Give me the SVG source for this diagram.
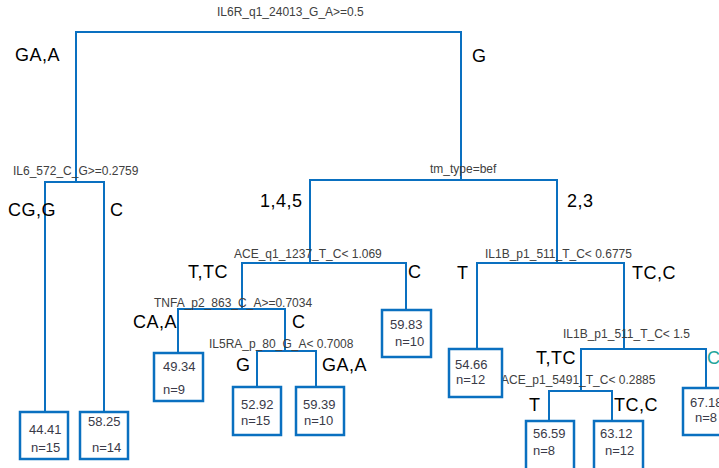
<svg xmlns="http://www.w3.org/2000/svg" width="719" height="468" viewBox="0 0 719 468">
<style>
.e{fill:none;stroke:#0a70c0;stroke-width:2}
.b{fill:#fff;stroke:#0a70c0;stroke-width:2.5}
.s{font-family:"Liberation Sans",Arial,sans-serif;font-size:12px;fill:#404040}
.l{font-family:"Liberation Sans",Arial,sans-serif;font-size:18px;fill:#000;letter-spacing:0.5px}
.v{font-family:"Liberation Sans",Arial,sans-serif;font-size:13px;fill:#3a3a48}
</style>
<rect width="719" height="468" fill="#fff"/>
<g id="connectors">
<path class="e" d="M76,182V32H461V180"/>
<path class="e" d="M45,412V182H104V412"/>
<path class="e" d="M310,263V180H557V263"/>
<path class="e" d="M242,309V263H406V310"/>
<path class="e" d="M178,353V309H285V351"/>
<path class="e" d="M257,387V351H316V387"/>
<path class="e" d="M477,349V263H624V349"/>
<path class="e" d="M581,391V349H706V388"/>
<path class="e" d="M549,421V391H612V421"/>
</g>
<g id="split-root"><text class="s" x="217" y="16">IL6R_q1_24013_G_A&gt;=0.5</text>
<text class="l" x="15" y="61">GA,A</text><text class="l" x="472" y="62">G</text></g>
<g id="split-il6"><text class="s" x="13" y="175">IL6_572_C_G&gt;=0.2759</text>
<text class="l" x="8" y="216">CG,G</text><text class="l" x="110" y="216">C</text></g>
<g id="split-tm"><text class="s" x="430" y="173">tm_type=bef</text>
<text class="l" x="260" y="207">1,4,5</text><text class="l" x="567" y="207">2,3</text></g>
<g id="split-ace1"><text class="s" x="234" y="258">ACE_q1_1237_T_C&lt; 1.069</text>
<text class="l" x="188" y="278">T,TC</text><text class="l" x="408" y="278">C</text></g>
<g id="split-tnfa"><text class="s" x="154" y="307">TNFA_p2_863_C_A&gt;=0.7034</text>
<text class="l" x="133" y="328">CA,A</text><text class="l" x="292" y="328">C</text></g>
<g id="split-il5ra"><text class="s" x="209" y="348">IL5RA_p_80_G_A&lt; 0.7008</text>
<text class="l" x="236" y="371">G</text><text class="l" x="322" y="371">GA,A</text></g>
<g id="split-il1b1"><text class="s" x="485" y="258">IL1B_p1_511_T_C&lt; 0.6775</text>
<text class="l" x="457" y="279">T</text><text class="l" x="632" y="279">TC,C</text></g>
<g id="split-il1b2"><text class="s" x="563" y="338">IL1B_p1_511_T_C&lt; 1.5</text>
<text class="l" x="536" y="364">T,TC</text><text class="l" x="707" y="364" style="fill:#1fa59a">C</text></g>
<g id="split-ace2"><text class="s" x="501" y="384">ACE_p1_5491_T_C&lt; 0.2885</text>
<text class="l" x="529" y="411">T</text><text class="l" x="614" y="411">TC,C</text></g>
<g id="leaf-4441"><rect class="b" x="20" y="412" width="48" height="47"/><text class="v" x="29" y="434">44.41</text><text class="v" x="31" y="452">n=15</text></g>
<g id="leaf-5825"><rect class="b" x="80" y="412" width="48" height="47"/><text class="v" x="88" y="426">58.25</text><text class="v" x="92" y="452">n=14</text></g>
<g id="leaf-4934"><rect class="b" x="154" y="353" width="49" height="48"/><text class="v" x="163" y="371">49.34</text><text class="v" x="163" y="394">n=9</text></g>
<g id="leaf-5292"><rect class="b" x="233" y="387" width="48" height="48"/><text class="v" x="241" y="409">52.92</text><text class="v" x="241" y="425">n=15</text></g>
<g id="leaf-5939"><rect class="b" x="296" y="387" width="48" height="48"/><text class="v" x="303" y="409">59.39</text><text class="v" x="304" y="425">n=10</text></g>
<g id="leaf-5983"><rect class="b" x="382" y="310" width="49" height="47"/><text class="v" x="390" y="329">59.83</text><text class="v" x="395" y="346">n=10</text></g>
<g id="leaf-5466"><rect class="b" x="449" y="349" width="53" height="48"/><text class="v" x="455" y="369">54.66</text><text class="v" x="456" y="384">n=12</text></g>
<g id="leaf-5659"><rect class="b" x="526" y="421" width="48" height="52"/><text class="v" x="533" y="438">56.59</text><text class="v" x="533" y="455">n=8</text></g>
<g id="leaf-6312"><rect class="b" x="594" y="421" width="49" height="52"/><text class="v" x="600" y="438">63.12</text><text class="v" x="605" y="455">n=12</text></g>
<g id="leaf-6718"><rect class="b" x="683" y="388" width="50" height="47"/><text class="v" x="690" y="407">67.18</text><text class="v" x="695" y="422">n=8</text></g>
</svg>
